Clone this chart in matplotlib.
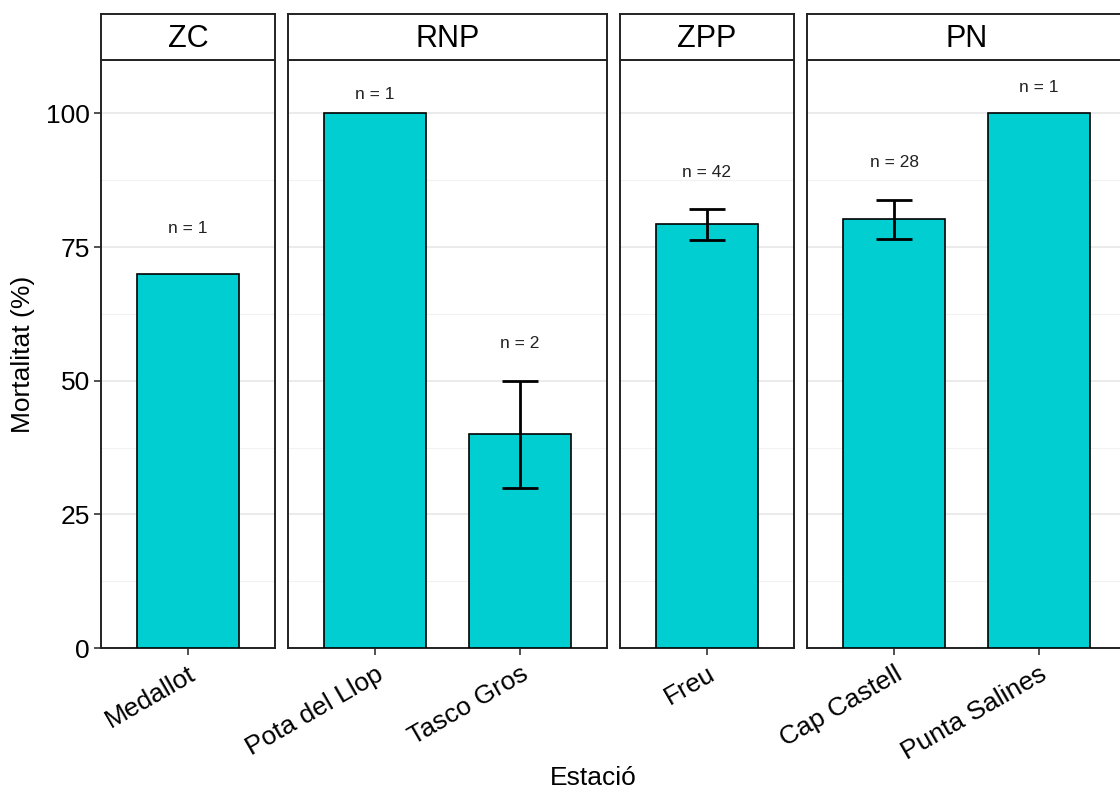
import numpy as np
import matplotlib
matplotlib.use('Agg')
import matplotlib.pyplot as plt

plt.rcParams['font.family'] = ['Liberation Sans', 'DejaVu Sans']

# Data
groups = ['ZC', 'RNP', 'ZPP', 'PN']
stations = ['Medallot', 'Pota del Llop', 'Tasco Gros', 'Freu', 'Cap Castell', 'Punta Salines']
station_group = ['ZC', 'RNP', 'RNP', 'ZPP', 'PN', 'PN']
mortality = [70, 100, 40, 79.3, 80.2, 100]
err_low = [np.nan, np.nan, 30, 76.4, 76.5, np.nan]
err_high = [np.nan, np.nan, 50, 82.2, 83.8, np.nan]
n_obs = [1, 1, 2, 42, 28, 1]
label_y = [78.5, 103.5, 57.0, 89.0, 90.8, 104.8]

bar_color = '#00CED1'
W, H = 1120, 796

fig = plt.figure(figsize=(W / 100, H / 100), dpi=100)

# layout in pixels
unit = 145.0
gap = 13.0
left = 101.0
panel_bottom = 648.0
panel_top = 60.0
strip_top = 14.0

x0 = left
for g in groups:
    idx = [i for i, s in enumerate(station_group) if s == g]
    width_units = len(idx) - 1 + 1.2
    wpx = width_units * unit
    ax = fig.add_axes([x0 / W, (H - panel_bottom) / H, wpx / W, (panel_bottom - panel_top) / H])
    sax = fig.add_axes([x0 / W, (H - panel_top) / H, wpx / W, (panel_top - strip_top) / H])

    pos = np.arange(1, len(idx) + 1)
    vals = [mortality[i] for i in idx]
    ax.bar(pos, vals, width=0.7, color=bar_color, edgecolor='black', linewidth=1.2, zorder=3)
    lo = np.array([err_low[i] for i in idx])
    hi = np.array([err_high[i] for i in idx])
    v = np.array(vals, dtype=float)
    ok = ~np.isnan(lo)
    if ok.any():
        ax.errorbar(pos[ok], v[ok], yerr=[v[ok] - lo[ok], hi[ok] - v[ok]], fmt='none',
                    ecolor='black', elinewidth=2, capsize=13, capthick=2, zorder=4)
    for p, i in zip(pos, idx):
        ax.text(p, label_y[i], 'n = %d' % n_obs[i], ha='center', va='center', fontsize=12.5, color='#222222')

    ax.set_xlim(0.4, len(idx) + 0.6)
    ax.set_ylim(0, 110)
    ax.set_yticks([0, 25, 50, 75, 100])
    ax.set_yticks([12.5, 37.5, 62.5, 87.5], minor=True)
    ax.grid(axis='y', which='major', color='#EBEBEB', linewidth=1.4, zorder=0)
    ax.grid(axis='y', which='minor', color='#F2F2F2', linewidth=0.8, zorder=0)
    ax.set_xticks(pos)
    ax.set_xticklabels([stations[i] for i in idx], rotation=30, ha='right',
                       rotation_mode='anchor', fontsize=19)
    ax.tick_params(axis='x', length=5, width=1.2, color='#333333', pad=5)
    ax.tick_params(axis='y', which='minor', length=0)
    if g == groups[0]:
        ax.tick_params(axis='y', length=5, width=1.2, color='#333333', labelsize=19, pad=3)
        ax.set_ylabel('Mortalitat (%)', fontsize=19, labelpad=8)
    else:
        ax.tick_params(axis='y', length=0, labelleft=False)
    for sp in ax.spines.values():
        sp.set_color('#222222')
        sp.set_linewidth(1.4)

    sax.set_xticks([])
    sax.set_yticks([])
    sax.set_facecolor('white')
    for sp in sax.spines.values():
        sp.set_color('#222222')
        sp.set_linewidth(1.4)
    sax.text(0.5, 0.45, g, ha='center', va='center', fontsize=22, transform=sax.transAxes)

    x0 += wpx + gap

fig.text(593 / W, 1 - 778 / H, 'Estació', ha='center', va='center', fontsize=19)

fig.savefig('out.png', dpi=100)
